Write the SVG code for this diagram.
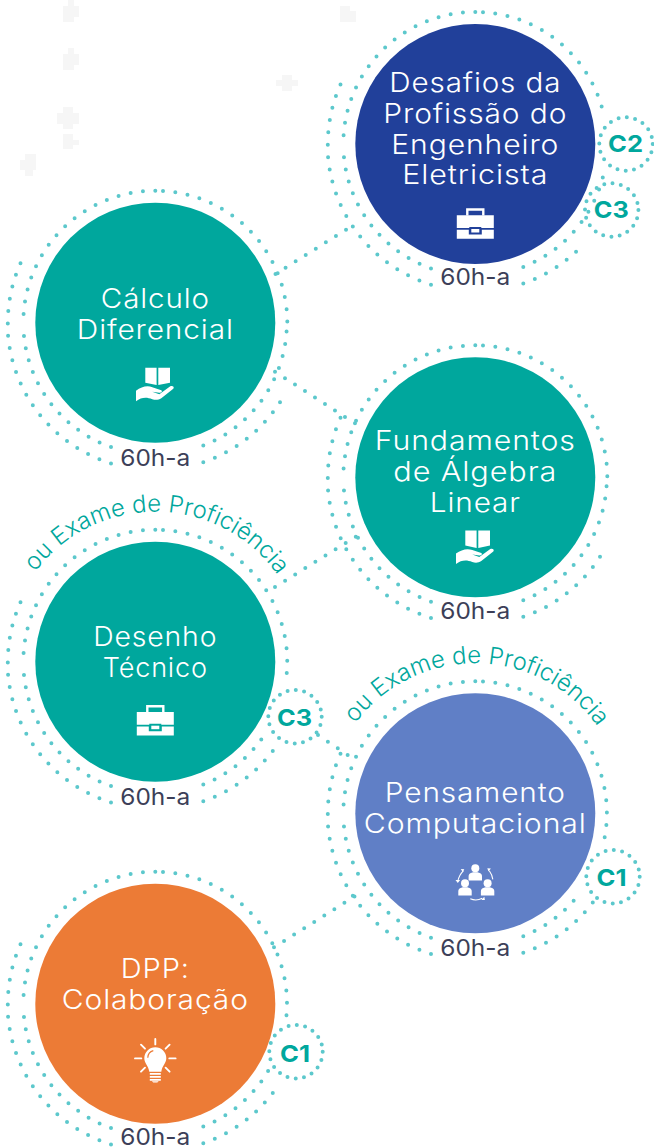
<svg xmlns="http://www.w3.org/2000/svg" xmlns:xlink="http://www.w3.org/1999/xlink" width="654" height="1148" viewBox="0 0 654 1148">
<style>
.d{fill:none;stroke:#5cc8cc;stroke-width:4;stroke-linecap:round;stroke-dasharray:0 12.4}
.l{stroke-dasharray:0 11.9}
.b{fill:none;stroke:#5cc8cc;stroke-width:4;stroke-linecap:round;stroke-dasharray:0 8.39}
.t{font-family:Inter,"Liberation Sans",sans-serif;font-weight:300;font-size:27px;letter-spacing:.8px;fill:#fff;text-anchor:middle}
.h{font-family:Inter,"Liberation Sans",sans-serif;font-weight:400;font-size:23px;fill:#3c3f58;text-anchor:middle}
.c{font-family:Inter,"Liberation Sans",sans-serif;font-weight:700;font-size:23.5px;fill:#00a79d;text-anchor:middle}
.e{font-family:Inter,"Liberation Sans",sans-serif;font-weight:350;font-size:24px;fill:#00a79d;text-anchor:middle}
.i{fill:#fff}
.bg{fill:#f6f6f6}
</style>
<defs>
<g id="rings">
<path class="d" d="M0-132A132 132 0 0 0-132 0"/>
<path class="d" d="M-44.3 124.4A132 132 0 0 1-131.4 12.5"/>
<path class="d" d="M-147.5 .7A147.5 147.5 0 0 1-133.7-62"/>
<path class="d" d="M-44.3 140.7A147.5 147.5 0 0 1-147.3 12.3"/>
</g>
<path id="arc" d="M-150 0A150 150 0 0 1 150 0"/>
<g id="case" class="i">
<path d="M-8 71.5V65.5H8V71.5" fill="none" stroke="#fff" stroke-width="2.4"/>
<path d="M-18.5 71.3H18.5V84H6V83H-6V84H-18.5Z"/>
<path d="M-18.5 85.7H-6.5V90.5H6.5V85.7H18.5V94.7H-18.5Z"/>
<rect x="-4" y="85" width="8" height="3.5"/>
</g>
<g id="book" class="i">
<path d="M-10 45H1.3V62.3L-10 60Z"/>
<path d="M3 45H14.7V60L3 62.3Z"/>
<path d="M-19.3 68C-14 64-8 62.5-3 64.5L6 67.5C7.5 68.5 6 70 4 70L-3 69L4 71.5L15 63.5C17 62.5 19.5 64 18 66L6 75.5C3 77.5 0 77.5-3 76.5C-9 74-14 74.5-19.3 78.5Z"/>
</g>
<g id="person" class="i">
<circle r="4"/>
<path d="M-6.7 12.3V8Q-6.7 5-3.7 4.5L-2.2 4H2.2L3.7 4.5Q6.7 5 6.7 8V12.3Z"/>
</g>
</defs>

<g id="background">
<path class="bg" d="M68 0H74V6H79V17H74V22H63V6H68Z"/>
<path class="bg" d="M68 48H74V54H79V65H74V70H63V54H68Z"/>
<path class="bg" d="M63 107H73V113H79V124H73V129H63V124H57V113H63Z"/>
<path class="bg" d="M63 134H73V140H79V145H73V149H63Z"/>
<path class="bg" d="M25 154H36V170H33V176H25V170H20V160H25Z"/>
<path class="bg" d="M282 75H292V80H298V86H292V91H282V86H276V80H282Z"/>
<path class="bg" d="M340 6H350V11H356V22H340Z"/>
</g>

<g id="connectors">
<path class="d l" d="M275.5 274L355 224"/>
<path class="d l" d="M275 371.7L356 424"/>
<path class="d l" d="M275 587L356 536.5"/>
<path class="d l" d="M318 735L356 760.5"/>
<path class="d l" d="M274 947.3L356 895.5"/>
</g>

<g id="desafios" transform="translate(475.3 144)">
<use href="#rings"/>
<path class="d" d="M7.7-131.8A132 132 0 0 1 126.7-36.3"/>
<path class="d" d="M48 122.9A132 132 0 0 0 127.7 32.7"/>
<path class="d" d="M48 139.5A147.5 147.5 0 0 0 109 99.3"/>
<circle r="120" fill="#21409a"/>
<text class="t" y="-52.3" textLength="172" lengthAdjust="spacingAndGlyphs">Desafios da</text>
<text class="t" y="-21.3" textLength="184" lengthAdjust="spacingAndGlyphs">Profissão do</text>
<text class="t" y="10" textLength="168" lengthAdjust="spacingAndGlyphs">Engenheiro</text>
<text class="t" y="40" textLength="146" lengthAdjust="spacingAndGlyphs">Eletricista</text>
<use href="#case"/>
<text class="h" y="141" textLength="70" lengthAdjust="spacingAndGlyphs">60h-a</text>
</g>

<g id="calculo" transform="translate(155.3 322.7)">
<use href="#rings"/>
<path class="d" d="M7.7-131.8A132 132 0 0 1 132 0"/>
<path class="d" d="M48 122.9A132 132 0 0 0 131.3 8.3"/>
<path class="d" d="M48 139.5A147.5 147.5 0 0 0 129 72.3"/>
<circle r="120" fill="#00a79d"/>
<text class="t" y="-15" textLength="109" lengthAdjust="spacingAndGlyphs">Cálculo</text>
<text class="t" y="16.3" textLength="157" lengthAdjust="spacingAndGlyphs">Diferencial</text>
<use href="#book"/>
<text class="h" y="143" textLength="70" lengthAdjust="spacingAndGlyphs">60h-a</text>
</g>

<g id="fundamentos" transform="translate(475.3 477.3)">
<use href="#rings"/>
<path class="d" d="M7.7-131.8A132 132 0 0 1 132 0"/>
<path class="d" d="M48 122.9A132 132 0 0 0 131.3 8.3"/>
<path class="d" d="M48 139.5A147.5 147.5 0 0 0 129 72.3"/>
<circle r="120" fill="#00a79d"/>
<text class="t" y="-27.3" textLength="201" lengthAdjust="spacingAndGlyphs">Fundamentos</text>
<text class="t" y="3.4" textLength="164" lengthAdjust="spacingAndGlyphs">de Álgebra</text>
<text class="t" y="34.4" textLength="91" lengthAdjust="spacingAndGlyphs">Linear</text>
<use href="#book" transform="translate(0 8.3)"/>
<text class="h" y="142" textLength="70" lengthAdjust="spacingAndGlyphs">60h-a</text>
</g>

<g id="desenho" transform="translate(155.3 661.7)">
<use href="#rings"/>
<path class="d" d="M7.7-131.8A132 132 0 0 1 130.3 20.7"/>
<path class="d" d="M48 122.9A132 132 0 0 0 106 77.7"/>
<path class="d" d="M48 139.5A147.5 147.5 0 0 0 124 80"/>
<circle r="120" fill="#00a79d"/>
<text class="t" y="-16" textLength="124" lengthAdjust="spacingAndGlyphs">Desenho</text>
<text class="t" y="15" textLength="105" lengthAdjust="spacingAndGlyphs">Técnico</text>
<use href="#case" transform="translate(0 -21)"/>
<text class="h" y="143.3" textLength="70" lengthAdjust="spacingAndGlyphs">60h-a</text>
<text class="e"><textPath href="#arc" startOffset="50.4%">ou Exame de Proficiência</textPath></text>
</g>

<g id="pensamento" transform="translate(475.3 813.3)">
<use href="#rings"/>
<path class="d" d="M7.7-131.8A132 132 0 0 1 127.3 33.3"/>
<path class="d" d="M48 122.9A132 132 0 0 0 106 78"/>
<path class="d" d="M48 139.5A147.5 147.5 0 0 0 124 80"/>
<circle r="120" fill="#607fc6"/>
<text class="t" y="-11.6" textLength="181" lengthAdjust="spacingAndGlyphs">Pensamento</text>
<text class="t" y="19.4" textLength="223" lengthAdjust="spacingAndGlyphs">Computacional</text>
<use href="#person" x="0" y="55"/>
<use href="#person" x="-10.3" y="70"/>
<use href="#person" x="12.3" y="70"/>
<path d="M-12 57.5A20 20 0 0 0-17.5 68M14 57.5A20 20 0 0 1 17.5 66M-5 85.5Q1 88 7 85" fill="none" stroke="#fff" stroke-width="1.1"/>
<path class="i" d="M-11 56L-14.5 55.8L-12.5 59ZM12 55L15.6 55.3L13.2 58.3ZM9 83.5L6 86.8L9.6 86.8ZM-19.8 66.8L-15.2 66.8L-17.5 69.8Z"/>
<text class="h" y="142.7" textLength="70" lengthAdjust="spacingAndGlyphs">60h-a</text>
<text class="e"><textPath href="#arc" startOffset="50.4%">ou Exame de Proficiência</textPath></text>
</g>

<g id="dpp" transform="translate(155.3 1003.7)">
<use href="#rings"/>
<path class="d" d="M7.7-131.8A132 132 0 0 1 130 21"/>
<path class="d" d="M48 122.9A132 132 0 0 0 113 67"/>
<path class="d" d="M48 139.5A147.5 147.5 0 0 0 124 80"/>
<circle r="120" fill="#ec7b36"/>
<text class="t" y="-26" textLength="69" lengthAdjust="spacingAndGlyphs">DPP:</text>
<text class="t" y="5.3" textLength="187" lengthAdjust="spacingAndGlyphs">Colaboração</text>
<g id="bulb">
<path class="i" d="M0 43.5A11 11 0 0 1 11 54.5C11 59.5 7 61.5 6 68H-6C-7 61.5-11 59.5-11 54.5A11 11 0 0 1 0 43.5Z"/>
<path d="M-7.5 54A7.5 7.5 0 0 1-2 47" fill="none" stroke="#ec7b36" stroke-width="1.2"/>
<path class="i" d="M-5.5 69.3H5.5V71H-5.5ZM-5.5 72.3H5.5V74H-5.5ZM-5.5 75.3H5.5V77H-5.5ZM-3.5 77.5H3.5L2 78.9H-2Z"/>
<path d="M0 35.3V40.7M14 54.7H20.3M-20.3 54.7H-14M-14.3 41L-10.3 45M14.3 41L10.3 45M-14.3 68L-10.3 64M14.3 68L10.3 64" fill="none" stroke="#fff" stroke-width="1.9" stroke-linecap="round"/>
</g>
<text class="h" y="141.8" textLength="70" lengthAdjust="spacingAndGlyphs">60h-a</text>
</g>

<g id="badge-c2" transform="translate(626 144)"><circle class="b" r="26.7"/><text class="c" x="-.5" y="7.7" textLength="35" lengthAdjust="spacingAndGlyphs">C2</text></g>
<g id="badge-c3a" transform="translate(611.7 210)"><circle class="b" r="26.7"/><text class="c" x="-.5" y="8.3" textLength="35" lengthAdjust="spacingAndGlyphs">C3</text></g>
<g id="badge-c3b" transform="translate(295 716.7)"><circle class="b" r="26.7"/><text class="c" x="-.5" y="9" textLength="35" lengthAdjust="spacingAndGlyphs">C3</text></g>
<g id="badge-c1a" transform="translate(613 876.7)"><circle class="b" r="26.7"/><text class="c" x="-1.5" y="9" textLength="30" lengthAdjust="spacingAndGlyphs">C1</text></g>
<g id="badge-c1b" transform="translate(296 1051.7)"><circle class="b" r="26.7"/><text class="c" x="-1" y="10" textLength="30" lengthAdjust="spacingAndGlyphs">C1</text></g>
</svg>
